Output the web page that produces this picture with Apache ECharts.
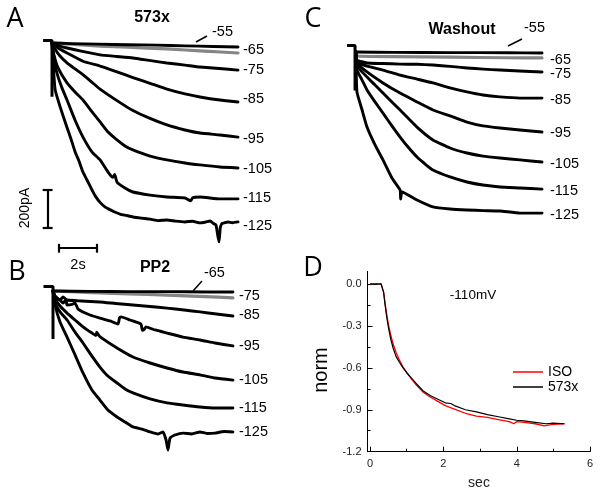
<!DOCTYPE html>
<html><head><meta charset="utf-8">
<script src="https://cdn.jsdelivr.net/npm/echarts@6/dist/echarts.min.js"></script>
<style>html,body{margin:0;padding:0;background:#fff}#c{width:602px;height:496px}</style>
</head><body><div id="c"></div>
<script>
// ---------- Panel A (573x): [time s, current pA] ----------
const a55 = [[0,0],[1,-3],[2.5,-6],[4,-9],[5.5,-11],[7,-15],[8.5,-18],[9.79,-21]];
const a65 = [[0,0],[1,-6],[2.53,-16],[4,-22],[6.05,-31],[8,-42],[9.79,-52]];
const a75 = [[0,0],[0.3,-12],[0.79,-26],[1.6,-44],[2.53,-62],[3.4,-70],[4.26,-78],[5.2,-92],[6.05,-104],[7,-115],[7.79,-125],[8.8,-133],[9.79,-141]];
const a85 = [[0,0],[0.3,-25],[0.79,-52],[1.63,-95],[2.53,-120],[3.42,-150],[4.26,-180],[5.16,-210],[6.05,-240],[7.0,-265],[7.79,-281],[8.84,-297],[9.79,-307]];
const a95 = [[0,0],[0.15,-30],[0.42,-68],[0.79,-104],[1.21,-135],[1.63,-165],[2.11,-205],[2.53,-240],[3.42,-300],[4.26,-352],[5.16,-393],[6.05,-427],[7.0,-453],[7.79,-469],[8.84,-479],[9.79,-490]];
const a105 = [[0,0],[0.1,-60],[0.32,-130],[0.79,-208],[1.21,-255],[1.63,-297],[2.11,-359],[2.53,-411],[2.95,-464],[3.42,-505],[3.84,-536],[4.26,-557],[5.16,-589],[6.05,-609],[7.0,-625],[7.79,-635],[8.84,-646],[9.79,-651]];
const a115 = [[0,0],[0.1,-90],[0.3,-170],[0.53,-235],[0.79,-297],[1.21,-401],[1.63,-490],[2.11,-568],[2.53,-609],[2.95,-672],[3.2,-700],[3.3,-685],[3.42,-724],[3.84,-755],[4.26,-776],[5.16,-792],[6.05,-802],[7.0,-807],[7.3,-822],[7.4,-806],[7.79,-802],[8.84,-812],[9.79,-812]];
const a125 = [[0,0],[0.16,-240],[0.42,-330],[0.79,-440],[1.0,-500],[1.21,-565],[1.42,-615],[1.63,-672],[1.9,-725],[2.11,-766],[2.3,-800],[2.53,-830],[2.8,-855],[3.05,-868],[3.3,-880],[3.58,-891],[3.9,-898],[4.26,-906],[4.7,-912],[5.16,-917],[5.6,-925],[6.05,-922],[6.5,-928],[7.0,-932],[7.4,-928],[7.79,-937],[8.1,-932],[8.32,-927],[8.5,-940],[8.63,-948],[8.72,-1000],[8.79,-1036],[8.86,-960],[8.95,-940],[9.26,-932],[9.5,-936],[9.79,-932]];
const transientA = [[-0.47,13],[0,13],[0,-280]];
const labelsA = ['-55','-65','-75','-85','-95','-105','-115','-125'];

// ---------- Panel B (PP2) ----------
const b65 = [[0,0],[2,-2],[4,-3],[6,-3],[8,-5],[9.47,-5]];
const b75 = [[0,0],[1,-4],[2.47,-10],[4,-15],[6,-21],[8,-29],[9.47,-36]];
const b85 = [[0,0],[0.11,-26],[0.37,-47],[0.53,-31],[0.74,-47],[1.5,-52],[2.47,-57],[3.3,-65],[4.21,-73],[5.1,-81],[6.0,-89],[6.9,-99],[7.74,-109],[8.6,-120],[9.47,-130]];
const b95 = [[0,0],[0.11,-31],[0.37,-47],[0.53,-63],[0.68,-45],[0.74,-73],[1.0,-70],[1.16,-63],[1.32,-94],[1.95,-125],[2.47,-141],[3.0,-156],[3.42,-172],[3.5,-140],[3.58,-135],[4.05,-151],[4.63,-172],[4.7,-205],[4.8,-200],[4.89,-187],[5.37,-203],[6.0,-219],[6.84,-240],[7.74,-255],[8.53,-271],[9.47,-286]];
const b105 = [[0,0],[0.16,-47],[0.37,-78],[0.74,-115],[1.16,-151],[1.58,-187],[2.05,-219],[2.26,-232],[2.3,-215],[2.47,-238],[3.37,-297],[4.21,-344],[5.11,-375],[6.0,-401],[6.84,-422],[7.74,-437],[8.53,-453],[9.47,-464]];
const b115 = [[0,0],[0.16,-73],[0.37,-109],[0.74,-151],[1.16,-214],[1.58,-271],[2.05,-339],[2.47,-396],[2.89,-443],[3.37,-479],[3.79,-510],[4.21,-531],[5.11,-562],[6.0,-583],[6.84,-594],[7.74,-604],[8.53,-609],[9.47,-609]];
const b125 = [[0,0],[0.11,-73],[0.37,-161],[0.74,-240],[1.16,-333],[1.58,-427],[2.05,-516],[2.47,-568],[2.89,-620],[3.37,-656],[3.79,-682],[4.21,-708],[4.68,-719],[5.11,-734],[5.53,-745],[5.79,-734],[5.95,-776],[6.05,-828],[6.16,-766],[6.42,-750],[6.84,-740],[7.3,-745],[7.74,-734],[8.1,-742],[8.53,-740],[9.0,-732],[9.47,-734]];
const transientB = [[-0.5,23],[0,23],[0,-250]];
const labelsB = ['-65','-75','-85','-95','-105','-115','-125'];

// ---------- Panel C (Washout) ----------
const c55 = [[0,0],[2,-2],[5,-3],[8,-4],[9.79,-5]];
const c65 = [[0,0],[0.05,-21],[2,-24],[5,-27],[8,-30],[9.79,-31]];
const c75 = [[0,0],[0.05,-42],[0.58,-57],[1.4,-60],[2.32,-63],[3.2,-64],[4.05,-68],[4.95,-75],[5.84,-83],[6.7,-89],[7.58,-94],[8.6,-99],[9.79,-104]];
const c85 = [[0,0],[0.05,-52],[0.58,-73],[1.42,-94],[2.32,-120],[3.21,-141],[4.05,-161],[4.95,-187],[5.84,-208],[6.68,-224],[7.58,-234],[8.63,-240],[9.79,-240]];
const c95 = [[0,0],[0.05,-57],[0.58,-104],[1.42,-161],[2.32,-214],[3.21,-260],[4.05,-302],[4.95,-333],[5.84,-365],[6.68,-385],[7.58,-396],[8.63,-406],[9.79,-417]];
const c105 = [[0,0],[0.05,-73],[0.58,-130],[1.0,-172],[1.42,-214],[1.89,-260],[2.32,-302],[3.21,-391],[4.05,-458],[4.95,-500],[5.84,-526],[6.68,-542],[7.58,-552],[8.63,-562],[9.79,-573]];
const c115 = [[0,0],[0.05,-94],[0.32,-146],[0.58,-198],[1.0,-260],[1.42,-318],[1.89,-385],[2.32,-443],[2.74,-495],[3.21,-547],[3.63,-583],[4.05,-615],[4.95,-651],[5.84,-677],[6.68,-693],[7.58,-703],[8.63,-708],[9.79,-714]];
const c125 = [[0,0],[0.05,-208],[0.32,-302],[0.58,-391],[1.0,-484],[1.42,-562],[1.89,-656],[2.32,-719],[2.35,-766],[2.42,-729],[3.21,-771],[4.05,-807],[4.95,-818],[5.84,-823],[6.7,-826],[7.58,-828],[8.63,-839],[9.79,-839]];
const transientC = [[-0.47,34],[-0.05,34],[-0.05,-200]];
const labelsC = ['-55','-65','-75','-85','-95','-105','-115','-125'];

// ---------- Scale bars ----------
const scaleCurrentPA = 200;
const scaleTimeS = 2;

// ---------- Panel D (-110 mV, normalized) ----------
const isoTrace = [[0,0],[0.15,0.003],[0.3,0.002],[0.34,0],[0.37,-0.06],[0.41,-0.14],[0.45,-0.21],[0.5,-0.29],[0.56,-0.36],[0.63,-0.43],[0.71,-0.49],[0.8,-0.545],[0.9,-0.595],[1.0,-0.635],[1.1,-0.67],[1.25,-0.72],[1.45,-0.775],[1.65,-0.81],[1.85,-0.84],[2.05,-0.87],[2.3,-0.895],[2.6,-0.925],[2.9,-0.945],[3.2,-0.955],[3.5,-0.97],[3.8,-0.985],[3.92,-1.0],[4.0,-0.985],[4.2,-0.99],[4.5,-1.0],[4.75,-1.015],[4.85,-1.01],[5.0,-1.005],[5.3,-1.0]];
const x573Trace = [[0,0],[0.15,-0.003],[0.3,0],[0.34,0],[0.37,-0.06],[0.41,-0.15],[0.45,-0.23],[0.5,-0.31],[0.56,-0.39],[0.63,-0.46],[0.71,-0.52],[0.8,-0.56],[0.9,-0.6],[1.0,-0.635],[1.1,-0.665],[1.25,-0.71],[1.45,-0.765],[1.65,-0.8],[1.85,-0.825],[2.05,-0.85],[2.2,-0.855],[2.3,-0.87],[2.6,-0.9],[2.9,-0.915],[3.2,-0.935],[3.5,-0.95],[3.8,-0.965],[4.0,-0.975],[4.2,-0.98],[4.5,-0.99],[4.8,-1.0],[5.0,-0.995],[5.3,-1.0]];
const dXTicks = [0,2,4,6];
const dXMinor = [1,3,5];
const dYTicks = [-1.2,-0.9,-0.6,-0.3,0];
const dYMinor = [-1.05,-0.75,-0.45,-0.15];
const dNames = ['ISO','573x'];

// ---------- layout / style config ----------
const FONT = '"Liberation Sans", Arial, sans-serif';
const offsA = [[-31,-15],[0,-3],[0,0],[0,-3],[0,2],[0,1],[0,-1],[0,4]];
const offsB = [[-35,-19],[0,-2],[0,-1],[0,0],[0,0],[0,0],[0,0]];
const offsC = [[-26,-25],[0,2],[0,2],[0,2],[0,1],[0,2],[0,2],[0,2]];

function trace(gi, data, label, color, off, dist) {
  return {
    type: 'line', xAxisIndex: gi, yAxisIndex: gi, data: data,
    symbol: 'none', showSymbol: false, smooth: 0.15, silent: true,
    z: color === '#000' ? 3 : 2,
    lineStyle: { color: color, width: color === '#000' ? 2.9 : 3.2, join: 'round', cap: 'round' },
    endLabel: { show: true, formatter: label, color: '#000', fontFamily: FONT, fontSize: 14.5, distance: dist, offset: off }
  };
}
function transient(gi, data) {
  return { type: 'line', xAxisIndex: gi, yAxisIndex: gi, data: data, symbol: 'none', silent: true, z: 4,
    lineStyle: { color: '#000', width: 3 } };
}

const series = [];
const GRAY = '#858585';
const tracesA = [a65, a55, a75, a85, a95, a105, a115, a125];
const labA = [labelsA[1], labelsA[0], labelsA[2], labelsA[3], labelsA[4], labelsA[5], labelsA[6], labelsA[7]];
const offA = [offsA[1], offsA[0], offsA[2], offsA[3], offsA[4], offsA[5], offsA[6], offsA[7]];
tracesA.forEach((d, i) => series.push(trace(0, d, labA[i], i === 0 ? GRAY : '#000', offA[i], 5)));
series.push(transient(0, transientA));

const tracesB = [b75, b65, b85, b95, b105, b115, b125];
const labB = [labelsB[1], labelsB[0], labelsB[2], labelsB[3], labelsB[4], labelsB[5], labelsB[6]];
const offB = [offsB[1], offsB[0], offsB[2], offsB[3], offsB[4], offsB[5], offsB[6]];
tracesB.forEach((d, i) => series.push(trace(1, d, labB[i], i === 0 ? GRAY : '#000', offB[i], 6)));
series.push(transient(1, transientB));

const tracesC = [c65, c55, c75, c85, c95, c105, c115, c125];
const labC = [labelsC[1], labelsC[0], labelsC[2], labelsC[3], labelsC[4], labelsC[5], labelsC[6], labelsC[7]];
const offC = [offsC[1], offsC[0], offsC[2], offsC[3], offsC[4], offsC[5], offsC[6], offsC[7]];
tracesC.forEach((d, i) => series.push(trace(2, d, labC[i], i === 0 ? GRAY : '#000', offC[i], 8)));
series.push(transient(2, transientC));

// scale bars in panel A's data space
const vbX = -0.23, vbTop = -762, capW = 0.26;
const hbY = -1069, hbX0 = 0.38, capH = 23;
series.push({
  type: 'lines', coordinateSystem: 'cartesian2d', xAxisIndex: 0, yAxisIndex: 0, silent: true, clip: false,
  lineStyle: { color: '#000', width: 2.2, opacity: 1, curveness: 0 },
  data: [
    { coords: [[vbX, vbTop], [vbX, vbTop - scaleCurrentPA]] },
    { coords: [[vbX - capW, vbTop], [vbX + capW, vbTop]] },
    { coords: [[vbX - capW, vbTop - scaleCurrentPA], [vbX + capW, vbTop - scaleCurrentPA]] },
    { coords: [[hbX0, hbY], [hbX0 + scaleTimeS, hbY]] },
    { coords: [[hbX0, hbY - capH], [hbX0, hbY + capH]] },
    { coords: [[hbX0 + scaleTimeS, hbY - capH], [hbX0 + scaleTimeS, hbY + capH]] }
  ]
});

series.push({ name: dNames[0], type: 'line', xAxisIndex: 3, yAxisIndex: 3, data: isoTrace, symbol: 'none', silent: true,
  lineStyle: { color: '#ff0000', width: 1.3 }, itemStyle: { color: '#ff0000' } });
series.push({ name: dNames[1], type: 'line', xAxisIndex: 3, yAxisIndex: 3, data: x573Trace, symbol: 'none', silent: true,
  lineStyle: { color: '#000', width: 1.2 }, itemStyle: { color: '#000' } });

function hiddenX(gi) { return { gridIndex: gi, type: 'value', min: -0.5, max: 10, show: false }; }
function hiddenY(gi, mn) { return { gridIndex: gi, type: 'value', min: mn, max: 50, show: false }; }

const axLine = { show: true, onZero: false, lineStyle: { color: '#000', width: 1 } };
const option = {
  animation: false,
  backgroundColor: '#fff',
  grid: [
    { left: 42.5, top: 33.4, width: 199.5, height: 230.4 },
    { left: 43.5, top: 281.4, width: 199.5, height: 201.6 },
    { left: 346.5, top: 42.4, width: 199.5, height: 230.4 },
    { left: 367.5, top: 271.4, width: 222.6, height: 180.3 }
  ],
  xAxis: [
    hiddenX(0), hiddenX(1), hiddenX(2),
    { gridIndex: 3, type: 'value', min: -0.07, max: 6, position: 'bottom', axisLine: axLine,
      axisTick: { show: true, inside: true, length: 5, customValues: dXTicks, lineStyle: { color: '#000' } },
      axisLabel: { customValues: dXTicks, color: '#222', fontSize: 11, fontFamily: FONT, margin: 7 },
      splitLine: { show: false } },
    { gridIndex: 3, type: 'value', min: -0.07, max: 6, position: 'bottom', axisLine: { show: false, onZero: false },
      axisTick: { show: true, inside: true, length: 3, customValues: dXMinor, lineStyle: { color: '#000' } },
      axisLabel: { show: false }, splitLine: { show: false } }
  ],
  yAxis: [
    hiddenY(0, -1150), hiddenY(1, -1000), hiddenY(2, -1150),
    { gridIndex: 3, type: 'value', min: -1.2, max: 0.09, position: 'left', axisLine: axLine,
      axisTick: { show: true, inside: true, length: 5, customValues: dYTicks, lineStyle: { color: '#000' } },
      axisLabel: { customValues: dYTicks, formatter: v => Number(v).toFixed(1), color: '#222', fontSize: 11, fontFamily: FONT, margin: 6 },
      splitLine: { show: false } },
    { gridIndex: 3, type: 'value', min: -1.2, max: 0.09, position: 'left', axisLine: { show: false, onZero: false },
      axisTick: { show: true, inside: true, length: 3, customValues: dYMinor, lineStyle: { color: '#000' } },
      axisLabel: { show: false }, splitLine: { show: false } }
  ],
  legend: {
    data: dNames, orient: 'vertical', left: 513, top: 365, padding: 0, itemWidth: 30, itemHeight: 1.5, itemGap: 1,
    icon: 'rect', selectedMode: false,
    textStyle: { color: '#000', fontSize: 14, fontFamily: FONT }
  },
  graphic: [
    { type: 'text', x: 15, y: 19, style: { text: 'A', font: '27px "Open Sans"', fill: '#000', textAlign: 'center', textVerticalAlign: 'middle' } },
    { type: 'text', x: 17, y: 272, style: { text: 'B', font: '27px "Open Sans"', fill: '#000', textAlign: 'center', textVerticalAlign: 'middle' } },
    { type: 'text', x: 313, y: 19, style: { text: 'C', font: '27px "Open Sans"', fill: '#000', textAlign: 'center', textVerticalAlign: 'middle' } },
    { type: 'text', x: 313, y: 268, style: { text: 'D', font: '27px "Open Sans"', fill: '#000', textAlign: 'center', textVerticalAlign: 'middle' } },
    { type: 'text', x: 152, y: 18, style: { text: '573x', font: 'bold 16px ' + FONT, fill: '#000', textAlign: 'center', textVerticalAlign: 'middle' } },
    { type: 'text', x: 155, y: 268, style: { text: 'PP2', font: 'bold 16px ' + FONT, fill: '#000', textAlign: 'center', textVerticalAlign: 'middle' } },
    { type: 'text', x: 462, y: 30, style: { text: 'Washout', font: 'bold 16px ' + FONT, fill: '#000', textAlign: 'center', textVerticalAlign: 'middle' } },
    { type: 'text', x: 25, y: 208, rotation: Math.PI / 2, style: { text: scaleCurrentPA + 'pA', font: '14px ' + FONT, fill: '#000', textAlign: 'center', textVerticalAlign: 'middle' } },
    { type: 'text', x: 78, y: 265, style: { text: scaleTimeS + 's', font: '14.5px ' + FONT, fill: '#000', textAlign: 'center', textVerticalAlign: 'middle' } },
    { type: 'text', x: 321, y: 370, rotation: Math.PI / 2, style: { text: 'norm', font: '20px ' + FONT, fill: '#000', textAlign: 'center', textVerticalAlign: 'middle' } },
    { type: 'text', x: 479, y: 483, style: { text: 'sec', font: '14px ' + FONT, fill: '#222', textAlign: 'center', textVerticalAlign: 'middle' } },
    { type: 'text', x: 473, y: 295, style: { text: '-110mV', font: '13.5px ' + FONT, fill: '#000', textAlign: 'center', textVerticalAlign: 'middle' } },
    { type: 'line', shape: { x1: 196, y1: 42, x2: 207, y2: 36 }, style: { stroke: '#000', lineWidth: 1.5 } },
    { type: 'line', shape: { x1: 193, y1: 291, x2: 202, y2: 281 }, style: { stroke: '#000', lineWidth: 1.5 } },
    { type: 'line', shape: { x1: 508, y1: 46, x2: 522, y2: 39 }, style: { stroke: '#000', lineWidth: 1.5 } }
  ],
  series: series
};
const chart = echarts.init(document.getElementById('c'), null, { renderer: 'canvas' });
chart.setOption(option);
</script></body></html>
